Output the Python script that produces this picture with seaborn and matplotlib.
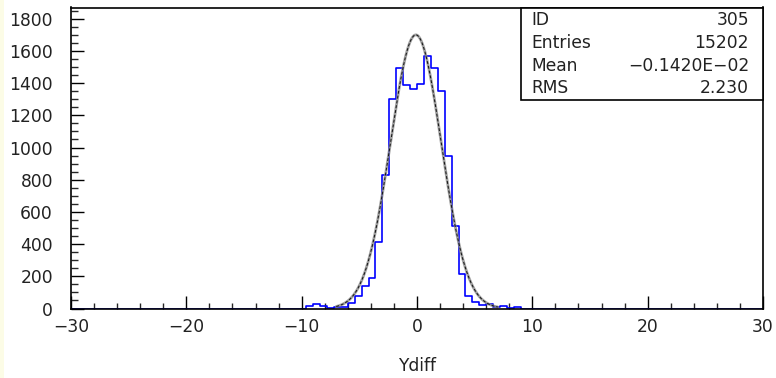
import numpy as np
import pandas as pd
import seaborn as sns
import matplotlib
matplotlib.use("Agg")
import matplotlib.pyplot as plt
from matplotlib.patches import Rectangle
from matplotlib.ticker import MultipleLocator

# ---- data ----
bin_lo, bin_hi, n_bins = -30.0, 30.0, 100
first_bin = 34  # bin index of first non-zero bin (edge -9.6)
counts_nonzero = [15, 25, 15, 5, 12, 12, 32, 78, 140, 187,
                  411, 828, 1304, 1494, 1391, 1362, 1397, 1568, 1494, 1353,
                  948, 514, 214, 78, 42, 22, 25, 8, 15, 5, 10]
fit_amp, fit_mean, fit_sigma = 1700.0, -0.1, 2.2
fit_range = (-7.0, 7.0)
stats_labels = ["ID", "Entries", "Mean", "RMS"]
stats_values = ["305", "15202", "\u22120.1420E\u221202", "2.230"]
x_label = "Ydiff"
x_ticks = [-30, -20, -10, 0, 10, 20, 30]
y_ticks = list(range(0, 1801, 200))

# ---- build table ----
edges = np.linspace(bin_lo, bin_hi, n_bins + 1)
centers = 0.5 * (edges[:-1] + edges[1:])
counts = np.zeros(n_bins)
counts[first_bin:first_bin + len(counts_nonzero)] = counts_nonzero
df = pd.DataFrame({"x": centers, "w": counts})

xf = np.linspace(fit_range[0], fit_range[1], 400)
yf = fit_amp * np.exp(-0.5 * ((xf - fit_mean) / fit_sigma) ** 2)
fit_df = pd.DataFrame({"x": xf, "y": yf})

# ---- style ----
FS = 12.3
sns.set_style("ticks")
plt.rcParams["font.family"] = ["DejaVu Sans"]
plt.rcParams["font.size"] = FS

fig = plt.figure(figsize=(7.76, 3.78), dpi=100)
fig.patch.set_facecolor("white")
fig.patches.append(Rectangle((0, 0), 4 / 776, 1, transform=fig.transFigure,
                             facecolor="#fcfce6", edgecolor="none", zorder=0))
ax = fig.add_axes([71 / 776, 1 - 308.5 / 378, (763 - 71) / 776, (308.5 - 7.5) / 378])

sns.histplot(data=df, x="x", weights="w", bins=n_bins, binrange=(bin_lo, bin_hi),
             element="step", fill=False, color="#0000ff", linewidth=1.2, ax=ax)
sns.lineplot(data=fit_df, x="x", y="y", color="#8a8a8a", linewidth=2.0, ax=ax,
             alpha=0.8)
ax.plot(fit_df["x"], fit_df["y"], color="#111111", linewidth=0.7, dashes=(3, 2))

ax.set_xlim(bin_lo, bin_hi)
ax.set_ylim(0, 1870)
ax.set_xticks(x_ticks)
ax.set_yticks(y_ticks)
ax.xaxis.set_minor_locator(MultipleLocator(2))
ax.yaxis.set_minor_locator(MultipleLocator(50))
ax.tick_params(axis="both", which="major", direction="in", length=9.5, width=1.0,
               colors="black", labelsize=FS, labelcolor="#222222")
ax.tick_params(axis="both", which="minor", direction="in", length=5, width=1.0)
ax.tick_params(axis="y", which="major", pad=13)
ax.tick_params(axis="x", which="major", pad=7)
ax.tick_params(axis="x", which="minor", length=4.5)
ax.set_xticklabels([str(t).replace("-", "\u2212") for t in x_ticks])
for s in ax.spines.values():
    s.set_visible(True)
    s.set_linewidth(1.2)
    s.set_color("black")
ax.set_xlabel(x_label, fontsize=FS, labelpad=15, color="#222222")
ax.set_ylabel("")

# ---- stats box ----
bx0 = (521 - 71) / (763 - 71)
by0 = (308.5 - 100) / (308.5 - 7.5)
ax.add_patch(Rectangle((bx0, by0), 1 - bx0, 1 - by0, transform=ax.transAxes,
                       facecolor="white", edgecolor="black", linewidth=1.2,
                       zorder=5, clip_on=False))
row_px = [20, 43, 66, 88]
for lab, val, py in zip(stats_labels, stats_values, row_px):
    yy = (308.5 - py) / (308.5 - 7.5)
    ax.text((531 - 71) / (763 - 71), yy, lab, transform=ax.transAxes,
            ha="left", va="center", fontsize=FS, color="#222222", zorder=6)
    ax.text((749 - 71) / (763 - 71), yy, val, transform=ax.transAxes,
            ha="right", va="center", fontsize=FS, color="#222222", zorder=6)

fig.savefig("out.png", dpi=100)
